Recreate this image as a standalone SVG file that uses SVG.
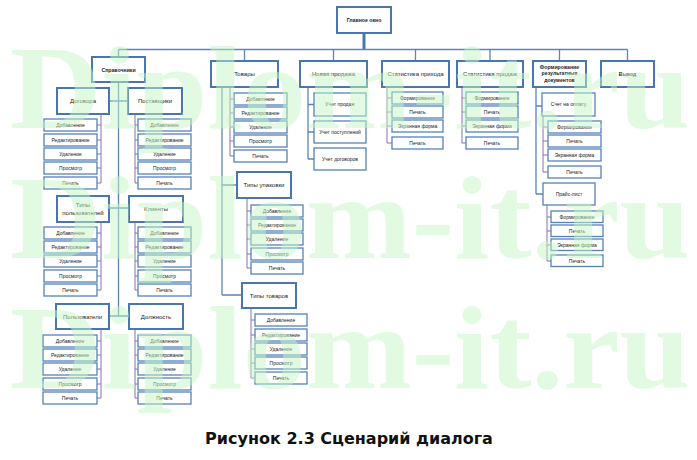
<svg xmlns="http://www.w3.org/2000/svg" width="697" height="460" viewBox="0 0 697 460">
<style>
.m rect{fill:#fff;stroke:#4a76b0;stroke-width:2}
.i rect{fill:#fff;stroke:#5581bb;stroke-width:1.3}
text{font-family:"Liberation Sans",Arial,sans-serif;fill:#222;text-anchor:middle}
.m text{font-size:6px}
.i text{font-size:5px}
.b text{font-weight:bold;font-size:5.2px}
.c{stroke:#5b84bb;stroke-width:1.3;fill:none}
.p{stroke:#8a6fb0;stroke-width:1;fill:none}
.wm{font-family:"Liberation Serif","Times New Roman",serif;font-size:118px;font-weight:bold;fill:#c4f5c4;fill-opacity:0.5;text-anchor:start}
.cap{font-family:"DejaVu Sans",sans-serif;font-size:16px;font-weight:bold;fill:#111}
</style>
<rect width="697" height="460" fill="#fff"/>
<g id="connectors">
<path d="M364 33V49" style="stroke-width:3;stroke:#4a76b0;fill:none"/>
<path class="c" d="M118.5 49.5H627.5M118.5 49.5V57M244.5 49.5V61M333.5 49.5V61M415.5 49.5V61M490 49.5V61M559.5 49.5V61M627.5 49.5V61"/>
<path class="c" d="M118.5 82V316M109 101H128M109 208H129M109 316H129"/>
<path class="p" d="M101 114V183M97 125H101M97 140H101M97 154H101M97 168H101M97 183H101"/>
<path class="p" d="M135 114V183M135 125H138M135 140H138M135 154H138M135 168H138M135 183H138"/>
<path class="p" d="M101 222V290M97 233H101M97 247H101M97 261H101M97 276H101M97 290H101"/>
<path class="p" d="M135 222V290M135 233H138M135 247H138M135 261H138M135 276H138M135 290H138"/>
<path class="p" d="M101 329V398M97 341H101M97 355H101M97 369H101M97 384H101M97 398H101"/>
<path class="p" d="M135 329V398M135 341H138M135 355H138M135 369H138M135 384H138M135 398H138"/>
<path class="c" d="M222 87V295M222 185H237M222 295H242"/>
<path class="p" d="M230 87V156M230 99H234M230 113H234M230 127H234M230 141H234M230 156H234"/>
<path class="p" d="M247 198V268M247 211H251M247 225H251M247 239H251M247 254H251M247 268H251"/>
<path class="p" d="M251 308V378M251 320H255M251 335H255M251 349H255M251 363H255M251 378H255"/>
<path class="c" d="M308 87V159M308 104.5H314M308 132H314M308 159H314"/>
<path class="p" d="M387 87V143M387 98H392M387 112H392M387 126H392M387 143H392"/>
<path class="p" d="M462 87V143M462 98H466M462 112H466M462 126H466M462 143H466"/>
<path class="c" d="M536 87V194M536 106H542M536 194H543"/>
<path class="p" d="M543 116V172M543 127H548M543 141H548M543 155H548M543 172H548"/>
<path class="p" d="M547 205V261M547 217H551M547 231H551M547 245H551M547 261H551"/>
</g>
<g id="glavnoe" class="m b"><rect x="337" y="7" width="54" height="26"/><text x="364" y="22">Главное окно</text></g>
<g id="spravochniki" class="m b"><rect x="92" y="57" width="53" height="25"/><text x="118.5" y="71.5">Справочники</text></g>
<g id="tovary" class="m"><rect x="211" y="61" width="67" height="26"/><text x="244.5" y="76">Товары</text></g>
<g id="novaya" class="m"><rect x="300" y="61" width="67" height="26"/><text x="333.5" y="76">Новая продажа</text></g>
<g id="stat-prihod" class="m"><rect x="382" y="61" width="67" height="26"/><text x="415.5" y="76">Статистика прихода</text></g>
<g id="stat-prodazh" class="m"><rect x="457" y="61" width="66" height="26"/><text x="490" y="76">Статистика продаж</text></g>
<g id="formirovanie" class="m b"><rect x="533" y="61" width="53" height="26"/><text x="559.5" y="68.5">Формирование</text><text x="559.5" y="75">результатных</text><text x="559.5" y="81.5">документов</text></g>
<g id="vyhod" class="m b"><rect x="601" y="61" width="53" height="26"/><text x="627.5" y="76">Вывод</text></g>

<g id="dogovora" class="m"><rect x="57" y="88" width="52" height="26"/><text x="83" y="103">Договора</text></g>
<g id="postavshiki" class="m"><rect x="128" y="88" width="54" height="26"/><text x="155" y="103">Поставщики</text></g>
<g id="dogovora-items" class="i">
<g id="d1"><rect x="44" y="119" width="53" height="12"/><text x="70.5" y="126.8">Добавление</text></g>
<g id="d2"><rect x="44" y="134" width="53" height="12"/><text x="70.5" y="141.8">Редактирование</text></g>
<g id="d3"><rect x="44" y="148" width="53" height="12"/><text x="70.5" y="155.8">Удаление</text></g>
<g id="d4"><rect x="44" y="162" width="53" height="12"/><text x="70.5" y="169.8">Просмотр</text></g>
<g id="d5"><rect x="44" y="177" width="53" height="12"/><text x="70.5" y="184.8">Печать</text></g>
</g>
<g id="postavshiki-items" class="i">
<g id="p1"><rect x="138" y="119" width="53" height="12"/><text x="164.5" y="126.8">Добавление</text></g>
<g id="p2"><rect x="138" y="134" width="53" height="12"/><text x="164.5" y="141.8">Редактирование</text></g>
<g id="p3"><rect x="138" y="148" width="53" height="12"/><text x="164.5" y="155.8">Удаление</text></g>
<g id="p4"><rect x="138" y="162" width="53" height="12"/><text x="164.5" y="169.8">Просмотр</text></g>
<g id="p5"><rect x="138" y="177" width="53" height="12"/><text x="164.5" y="184.8">Печать</text></g>
</g>

<g id="tipy-polz" class="m"><rect x="57" y="196" width="52" height="26"/><text x="83" y="206.5">Типы</text><text x="83" y="214.5">пользователей</text></g>
<g id="klienty" class="m"><rect x="129" y="196" width="54" height="26"/><text x="156" y="211">Клиенты</text></g>
<g id="tipy-polz-items" class="i">
<g id="tp1"><rect x="44" y="227" width="53" height="12"/><text x="70.5" y="234.8">Добавление</text></g>
<g id="tp2"><rect x="44" y="241" width="53" height="12"/><text x="70.5" y="248.8">Редактирование</text></g>
<g id="tp3"><rect x="44" y="255" width="53" height="12"/><text x="70.5" y="262.8">Удаление</text></g>
<g id="tp4"><rect x="44" y="270" width="53" height="12"/><text x="70.5" y="277.8">Просмотр</text></g>
<g id="tp5"><rect x="44" y="284" width="53" height="12"/><text x="70.5" y="291.8">Печать</text></g>
</g>
<g id="klienty-items" class="i">
<g id="k1"><rect x="138" y="227" width="53" height="12"/><text x="164.5" y="234.8">Добавление</text></g>
<g id="k2"><rect x="138" y="241" width="53" height="12"/><text x="164.5" y="248.8">Редактирование</text></g>
<g id="k3"><rect x="138" y="255" width="53" height="12"/><text x="164.5" y="262.8">Удаление</text></g>
<g id="k4"><rect x="138" y="270" width="53" height="12"/><text x="164.5" y="277.8">Просмотр</text></g>
<g id="k5"><rect x="138" y="284" width="53" height="12"/><text x="164.5" y="291.8">Печать</text></g>
</g>

<g id="polzovateli" class="m"><rect x="56" y="304" width="53" height="25"/><text x="82.5" y="318.5">Пользователи</text></g>
<g id="dolzhnost" class="m"><rect x="129" y="304" width="54" height="25"/><text x="156" y="318.5">Должность</text></g>
<g id="polzovateli-items" class="i">
<g id="u1"><rect x="43" y="335" width="54" height="12"/><text x="70" y="342.8">Добавление</text></g>
<g id="u2"><rect x="43" y="349" width="54" height="12"/><text x="70" y="356.8">Редактирование</text></g>
<g id="u3"><rect x="43" y="363" width="54" height="12"/><text x="70" y="370.8">Удаление</text></g>
<g id="u4"><rect x="43" y="378" width="54" height="12"/><text x="70" y="385.8">Просмотр</text></g>
<g id="u5"><rect x="43" y="392" width="54" height="12"/><text x="70" y="399.8">Печать</text></g>
</g>
<g id="dolzhnost-items" class="i">
<g id="dl1"><rect x="138" y="335" width="53" height="12"/><text x="164.5" y="342.8">Добавление</text></g>
<g id="dl2"><rect x="138" y="349" width="53" height="12"/><text x="164.5" y="356.8">Редактирование</text></g>
<g id="dl3"><rect x="138" y="363" width="53" height="12"/><text x="164.5" y="370.8">Удаление</text></g>
<g id="dl4"><rect x="138" y="378" width="53" height="12"/><text x="164.5" y="385.8">Просмотр</text></g>
<g id="dl5"><rect x="138" y="392" width="53" height="12"/><text x="164.5" y="399.8">Печать</text></g>
</g>

<g id="tovary-items" class="i">
<g id="t1"><rect x="234" y="93" width="53" height="12"/><text x="260.5" y="100.8">Добавление</text></g>
<g id="t2"><rect x="234" y="107" width="53" height="12"/><text x="260.5" y="114.8">Редактирование</text></g>
<g id="t3"><rect x="234" y="121" width="53" height="12"/><text x="260.5" y="128.8">Удаление</text></g>
<g id="t4"><rect x="234" y="135" width="53" height="12"/><text x="260.5" y="142.8">Просмотр</text></g>
<g id="t5"><rect x="234" y="150" width="53" height="12"/><text x="260.5" y="157.8">Печать</text></g>
</g>
<g id="tipy-upakovki" class="m"><rect x="237" y="172" width="54" height="26"/><text x="264" y="187">Типы упаковки</text></g>
<g id="tipy-upakovki-items" class="i">
<g id="tu1"><rect x="251" y="205" width="52" height="12"/><text x="277" y="212.8">Добавление</text></g>
<g id="tu2"><rect x="251" y="219" width="52" height="12"/><text x="277" y="226.8">Редактирование</text></g>
<g id="tu3"><rect x="251" y="233" width="52" height="12"/><text x="277" y="240.8">Удаление</text></g>
<g id="tu4"><rect x="251" y="248" width="52" height="12"/><text x="277" y="255.8">Просмотр</text></g>
<g id="tu5"><rect x="251" y="262" width="52" height="12"/><text x="277" y="269.8">Печать</text></g>
</g>
<g id="tipy-tovarov" class="m"><rect x="242" y="283" width="54" height="25"/><text x="269" y="297.5">Типы товаров</text></g>
<g id="tipy-tovarov-items" class="i">
<g id="tt1"><rect x="255" y="314" width="52" height="12"/><text x="281" y="321.8">Добавление</text></g>
<g id="tt2"><rect x="255" y="329" width="52" height="12"/><text x="281" y="336.8">Редактирование</text></g>
<g id="tt3"><rect x="255" y="343" width="52" height="12"/><text x="281" y="350.8">Удаление</text></g>
<g id="tt4"><rect x="255" y="357" width="52" height="12"/><text x="281" y="364.8">Просмотр</text></g>
<g id="tt5"><rect x="255" y="372" width="52" height="12"/><text x="281" y="379.8">Печать</text></g>
</g>

<g id="novaya-items" class="i">
<g id="n1"><rect x="314" y="93" width="52" height="23"/><text x="340" y="106.3">Учет продаж</text></g>
<g id="n2"><rect x="314" y="121" width="52" height="22"/><text x="340" y="133.8">Учет поступлений</text></g>
<g id="n3"><rect x="314" y="148" width="52" height="22"/><text x="340" y="160.8">Учет договоров</text></g>
</g>

<g id="stat-prihod-items" class="i">
<g id="sp1"><rect x="392" y="92" width="51" height="12"/><text x="417.5" y="99.8">Формирование</text></g>
<g id="sp2"><rect x="392" y="106" width="51" height="12"/><text x="417.5" y="113.8">Печать</text></g>
<g id="sp3"><rect x="392" y="120" width="51" height="12"/><text x="417.5" y="127.8">Экранная форма</text></g>
<g id="sp4"><rect x="392" y="137" width="51" height="12"/><text x="417.5" y="144.8">Печать</text></g>
</g>
<g id="stat-prodazh-items" class="i">
<g id="sz1"><rect x="466" y="92" width="52" height="12"/><text x="492" y="99.8">Формирование</text></g>
<g id="sz2"><rect x="466" y="106" width="52" height="12"/><text x="492" y="113.8">Печать</text></g>
<g id="sz3"><rect x="466" y="120" width="52" height="12"/><text x="492" y="127.8">Экранная форма</text></g>
<g id="sz4"><rect x="466" y="137" width="52" height="12"/><text x="492" y="144.8">Печать</text></g>
</g>

<g id="schet" class="i"><rect x="542" y="93" width="53" height="23"/><text x="568.5" y="106.3">Счет на оплату</text></g>
<g id="schet-items" class="i">
<g id="sc1"><rect x="548" y="121" width="53" height="12"/><text x="574.5" y="128.8">Формирование</text></g>
<g id="sc2"><rect x="548" y="135" width="53" height="12"/><text x="574.5" y="142.8">Печать</text></g>
<g id="sc3"><rect x="548" y="149" width="53" height="12"/><text x="574.5" y="156.8">Экранная форма</text></g>
<g id="sc4"><rect x="548" y="166" width="53" height="12"/><text x="574.5" y="173.8">Печать</text></g>
</g>
<g id="prais" class="i"><rect x="543" y="183" width="52" height="22"/><text x="569" y="195.8">Прайс-лист</text></g>
<g id="prais-items" class="i">
<g id="pr1"><rect x="551" y="211" width="52" height="11.5"/><text x="577" y="218.5">Формирование</text></g>
<g id="pr2"><rect x="551" y="225" width="52" height="11.5"/><text x="577" y="232.5">Печать</text></g>
<g id="pr3"><rect x="551" y="239" width="52" height="11.5"/><text x="577" y="246.5">Экранная форма</text></g>
<g id="pr4"><rect x="551" y="255" width="52" height="11.5"/><text x="577" y="262.5">Печать</text></g>
</g>

<g id="watermark">
<text class="wm" x="10" y="128" textLength="680" lengthAdjust="spacingAndGlyphs">Diplom-it.ru</text>
<text class="wm" x="10" y="258" textLength="680" lengthAdjust="spacingAndGlyphs">Diplom-it.ru</text>
<text class="wm" x="10" y="388" textLength="680" lengthAdjust="spacingAndGlyphs">Diplom-it.ru</text>
</g>
<text class="cap" x="349" y="444">Рисунок 2.3 Сценарий диалога</text>
</svg>
